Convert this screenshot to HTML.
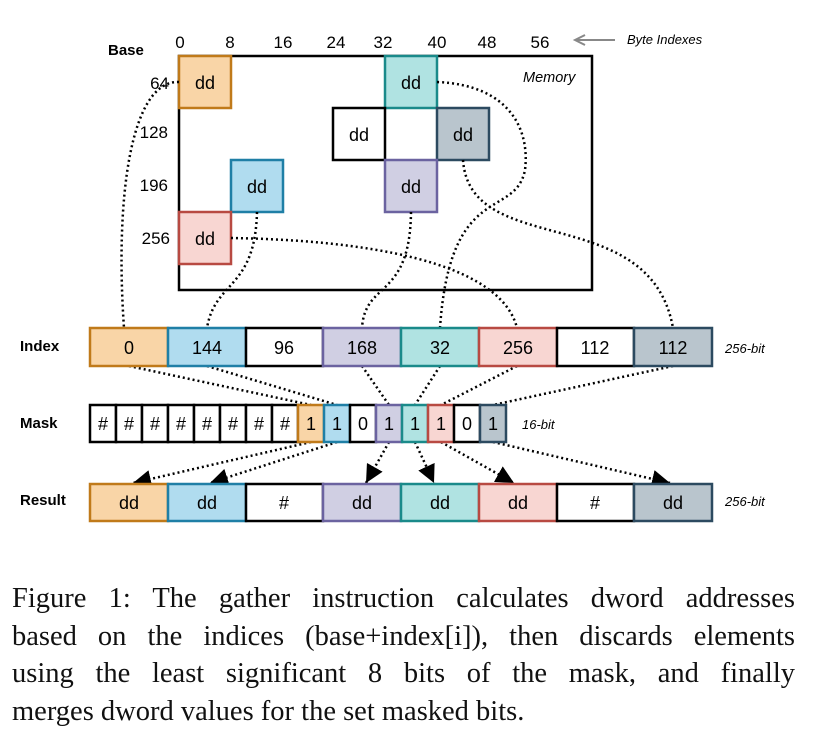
<!DOCTYPE html>
<html><head><meta charset="utf-8"><style>
body{margin:0;background:#fff;width:814px;height:751px;overflow:hidden}
svg text{font-family:"Liberation Sans",sans-serif}
.cap{position:absolute;left:12px;width:783px;font-family:"Liberation Serif",serif;font-size:28.5px;line-height:37.5px;color:#111;white-space:nowrap}
.j{text-align:justify;text-align-last:justify}
</style></head><body>
<svg width="814" height="751" style="position:absolute;left:0;top:0">
<defs>
<marker id="a" viewBox="0 0 10 10" refX="10" refY="5" markerWidth="18" markerHeight="18" markerUnits="userSpaceOnUse" orient="auto"><path d="M0,0L10,5L0,10z" fill="#000"/></marker></defs>
<g font-size="17" text-anchor="middle">
<text x="180" y="48">0</text><text x="230" y="48">8</text><text x="283" y="48">16</text><text x="336" y="48">24</text><text x="383" y="48">32</text><text x="437" y="48">40</text><text x="487" y="48">48</text><text x="540" y="48">56</text>
</g>
<text x="108" y="55" font-size="15" font-weight="bold">Base</text>
<line x1="615" y1="40" x2="576" y2="40" stroke="#888" stroke-width="2"/><path d="M585,35 L575,40 L585,45" fill="none" stroke="#888" stroke-width="2"/>
<text x="627" y="44" font-size="13" font-style="italic">Byte Indexes</text>
<rect x="179" y="56" width="413" height="234" fill="none" stroke="#000" stroke-width="2.5"/>
<text x="523" y="82" font-size="14.5" font-style="italic">Memory</text>
<g font-size="17" text-anchor="end"><text x="169" y="89">64</text><text x="168" y="138">128</text><text x="168" y="191">196</text><text x="170" y="244">256</text></g>
<g stroke-width="2.5">
<rect x="179" y="56" width="52" height="52" fill="#f9d5a7" stroke="#c07a1a"/>
<rect x="385" y="56" width="52" height="52" fill="#b0e3e2" stroke="#1a8a8a"/>
<rect x="333" y="108" width="52" height="52" fill="#fff" stroke="#000"/>
<rect x="437" y="108" width="52" height="52" fill="#b9c5cd" stroke="#2c4a60"/>
<rect x="231" y="160" width="52" height="52" fill="#b0dcef" stroke="#1f7fa6"/>
<rect x="385" y="160" width="52" height="52" fill="#d0cfe3" stroke="#6b63a0"/>
<rect x="179" y="212" width="52" height="52" fill="#f8d6d2" stroke="#b84a42"/>
</g>
<g font-size="18" text-anchor="middle"><text x="205" y="89">dd</text><text x="411" y="89">dd</text><text x="359" y="141">dd</text><text x="463" y="141">dd</text><text x="257" y="193">dd</text><text x="411" y="193">dd</text><text x="205" y="245">dd</text></g>
<g fill="none" stroke="#000" stroke-width="2.5" stroke-dasharray="2 3">
<path d="M179,82 C130,80 115,200 124,328"/>
<path d="M257,212 C255,290 215,280 207,328"/>
<path d="M411,212 C410,300 365,280 362,328"/>
<path d="M437,82 C510,85 530,130 525,170 C515,220 450,180 440,328"/>
<path d="M231,238 C360,240 500,260 517,328"/>
<path d="M463,160 C470,260 650,200 673,328"/>
<path d="M129,366 L311,405"/><path d="M207,366 L337,405"/><path d="M362,366 L389,405"/><path d="M440,366 L415,405"/><path d="M517,366 L441,405"/><path d="M673,366 L493,405"/>
</g>
<g fill="none" stroke="#000" stroke-width="2.5" stroke-dasharray="2 3">
<path d="M311,442 L133,483" marker-end="url(#a)"/><path d="M337,442 L210,483" marker-end="url(#a)"/><path d="M389,442 L366,483" marker-end="url(#a)"/><path d="M415,442 L434,483" marker-end="url(#a)"/><path d="M441,442 L514,483" marker-end="url(#a)"/><path d="M493,442 L670,483" marker-end="url(#a)"/>
</g>
<g font-size="15" font-weight="bold"><text x="20" y="351">Index</text><text x="20" y="428">Mask</text><text x="20" y="505">Result</text></g>
<g font-size="13" font-style="italic"><text x="725" y="353">256-bit</text><text x="522" y="429">16-bit</text><text x="725" y="506">256-bit</text></g>
<g stroke-width="2.5">
<rect x="90" y="328" width="78" height="38" fill="#f9d5a7" stroke="#c07a1a"/>
<rect x="168" y="328" width="78" height="38" fill="#b0dcef" stroke="#1f7fa6"/>
<rect x="246" y="328" width="77" height="38" fill="#fff" stroke="#000"/>
<rect x="323" y="328" width="78" height="38" fill="#d0cfe3" stroke="#6b63a0"/>
<rect x="401" y="328" width="78" height="38" fill="#b0e3e2" stroke="#1a8a8a"/>
<rect x="479" y="328" width="78" height="38" fill="#f8d6d2" stroke="#b84a42"/>
<rect x="557" y="328" width="77" height="38" fill="#fff" stroke="#000"/>
<rect x="634" y="328" width="78" height="38" fill="#b9c5cd" stroke="#2c4a60"/>
<rect x="90" y="484" width="78" height="37" fill="#f9d5a7" stroke="#c07a1a"/>
<rect x="168" y="484" width="78" height="37" fill="#b0dcef" stroke="#1f7fa6"/>
<rect x="246" y="484" width="77" height="37" fill="#fff" stroke="#000"/>
<rect x="323" y="484" width="78" height="37" fill="#d0cfe3" stroke="#6b63a0"/>
<rect x="401" y="484" width="78" height="37" fill="#b0e3e2" stroke="#1a8a8a"/>
<rect x="479" y="484" width="78" height="37" fill="#f8d6d2" stroke="#b84a42"/>
<rect x="557" y="484" width="77" height="37" fill="#fff" stroke="#000"/>
<rect x="634" y="484" width="78" height="37" fill="#b9c5cd" stroke="#2c4a60"/>
</g>
<g font-size="18" text-anchor="middle">
<text x="129" y="354">0</text><text x="207" y="354">144</text><text x="284" y="354">96</text><text x="362" y="354">168</text><text x="440" y="354">32</text><text x="518" y="354">256</text><text x="595" y="354">112</text><text x="673" y="354">112</text>
<text x="129" y="509">dd</text><text x="207" y="509">dd</text><text x="284" y="509">#</text><text x="362" y="509">dd</text><text x="440" y="509">dd</text><text x="518" y="509">dd</text><text x="595" y="509">#</text><text x="673" y="509">dd</text>
</g>
<g stroke-width="2.5">
<rect x="90" y="405" width="26" height="37" fill="#fff" stroke="#000"/><rect x="116" y="405" width="26" height="37" fill="#fff" stroke="#000"/><rect x="142" y="405" width="26" height="37" fill="#fff" stroke="#000"/><rect x="168" y="405" width="26" height="37" fill="#fff" stroke="#000"/><rect x="194" y="405" width="26" height="37" fill="#fff" stroke="#000"/><rect x="220" y="405" width="26" height="37" fill="#fff" stroke="#000"/><rect x="246" y="405" width="26" height="37" fill="#fff" stroke="#000"/><rect x="272" y="405" width="26" height="37" fill="#fff" stroke="#000"/>
<rect x="298" y="405" width="26" height="37" fill="#f9d5a7" stroke="#c07a1a"/>
<rect x="324" y="405" width="26" height="37" fill="#b0dcef" stroke="#1f7fa6"/>
<rect x="350" y="405" width="26" height="37" fill="#fff" stroke="#000"/>
<rect x="376" y="405" width="26" height="37" fill="#d0cfe3" stroke="#6b63a0"/>
<rect x="402" y="405" width="26" height="37" fill="#b0e3e2" stroke="#1a8a8a"/>
<rect x="428" y="405" width="26" height="37" fill="#f8d6d2" stroke="#b84a42"/>
<rect x="454" y="405" width="26" height="37" fill="#fff" stroke="#000"/>
<rect x="480" y="405" width="26" height="37" fill="#b9c5cd" stroke="#2c4a60"/>
</g>
<g font-size="18" text-anchor="middle">
<text x="103" y="430">#</text><text x="129" y="430">#</text><text x="155" y="430">#</text><text x="181" y="430">#</text><text x="207" y="430">#</text><text x="233" y="430">#</text><text x="259" y="430">#</text><text x="285" y="430">#</text>
<text x="311" y="430">1</text><text x="337" y="430">1</text><text x="363" y="430">0</text><text x="389" y="430">1</text><text x="415" y="430">1</text><text x="441" y="430">1</text><text x="467" y="430">0</text><text x="493" y="430">1</text>
</g>
</svg>
<div class="cap j" style="top:580px">Figure 1: The gather instruction calculates dword addresses</div>
<div class="cap j" style="top:618px">based on the indices (base+index[i]), then discards elements</div>
<div class="cap j" style="top:655px">using the least significant 8 bits of the mask, and finally</div>
<div class="cap" style="top:693px">merges dword values for the set masked bits.</div>
</body></html>
